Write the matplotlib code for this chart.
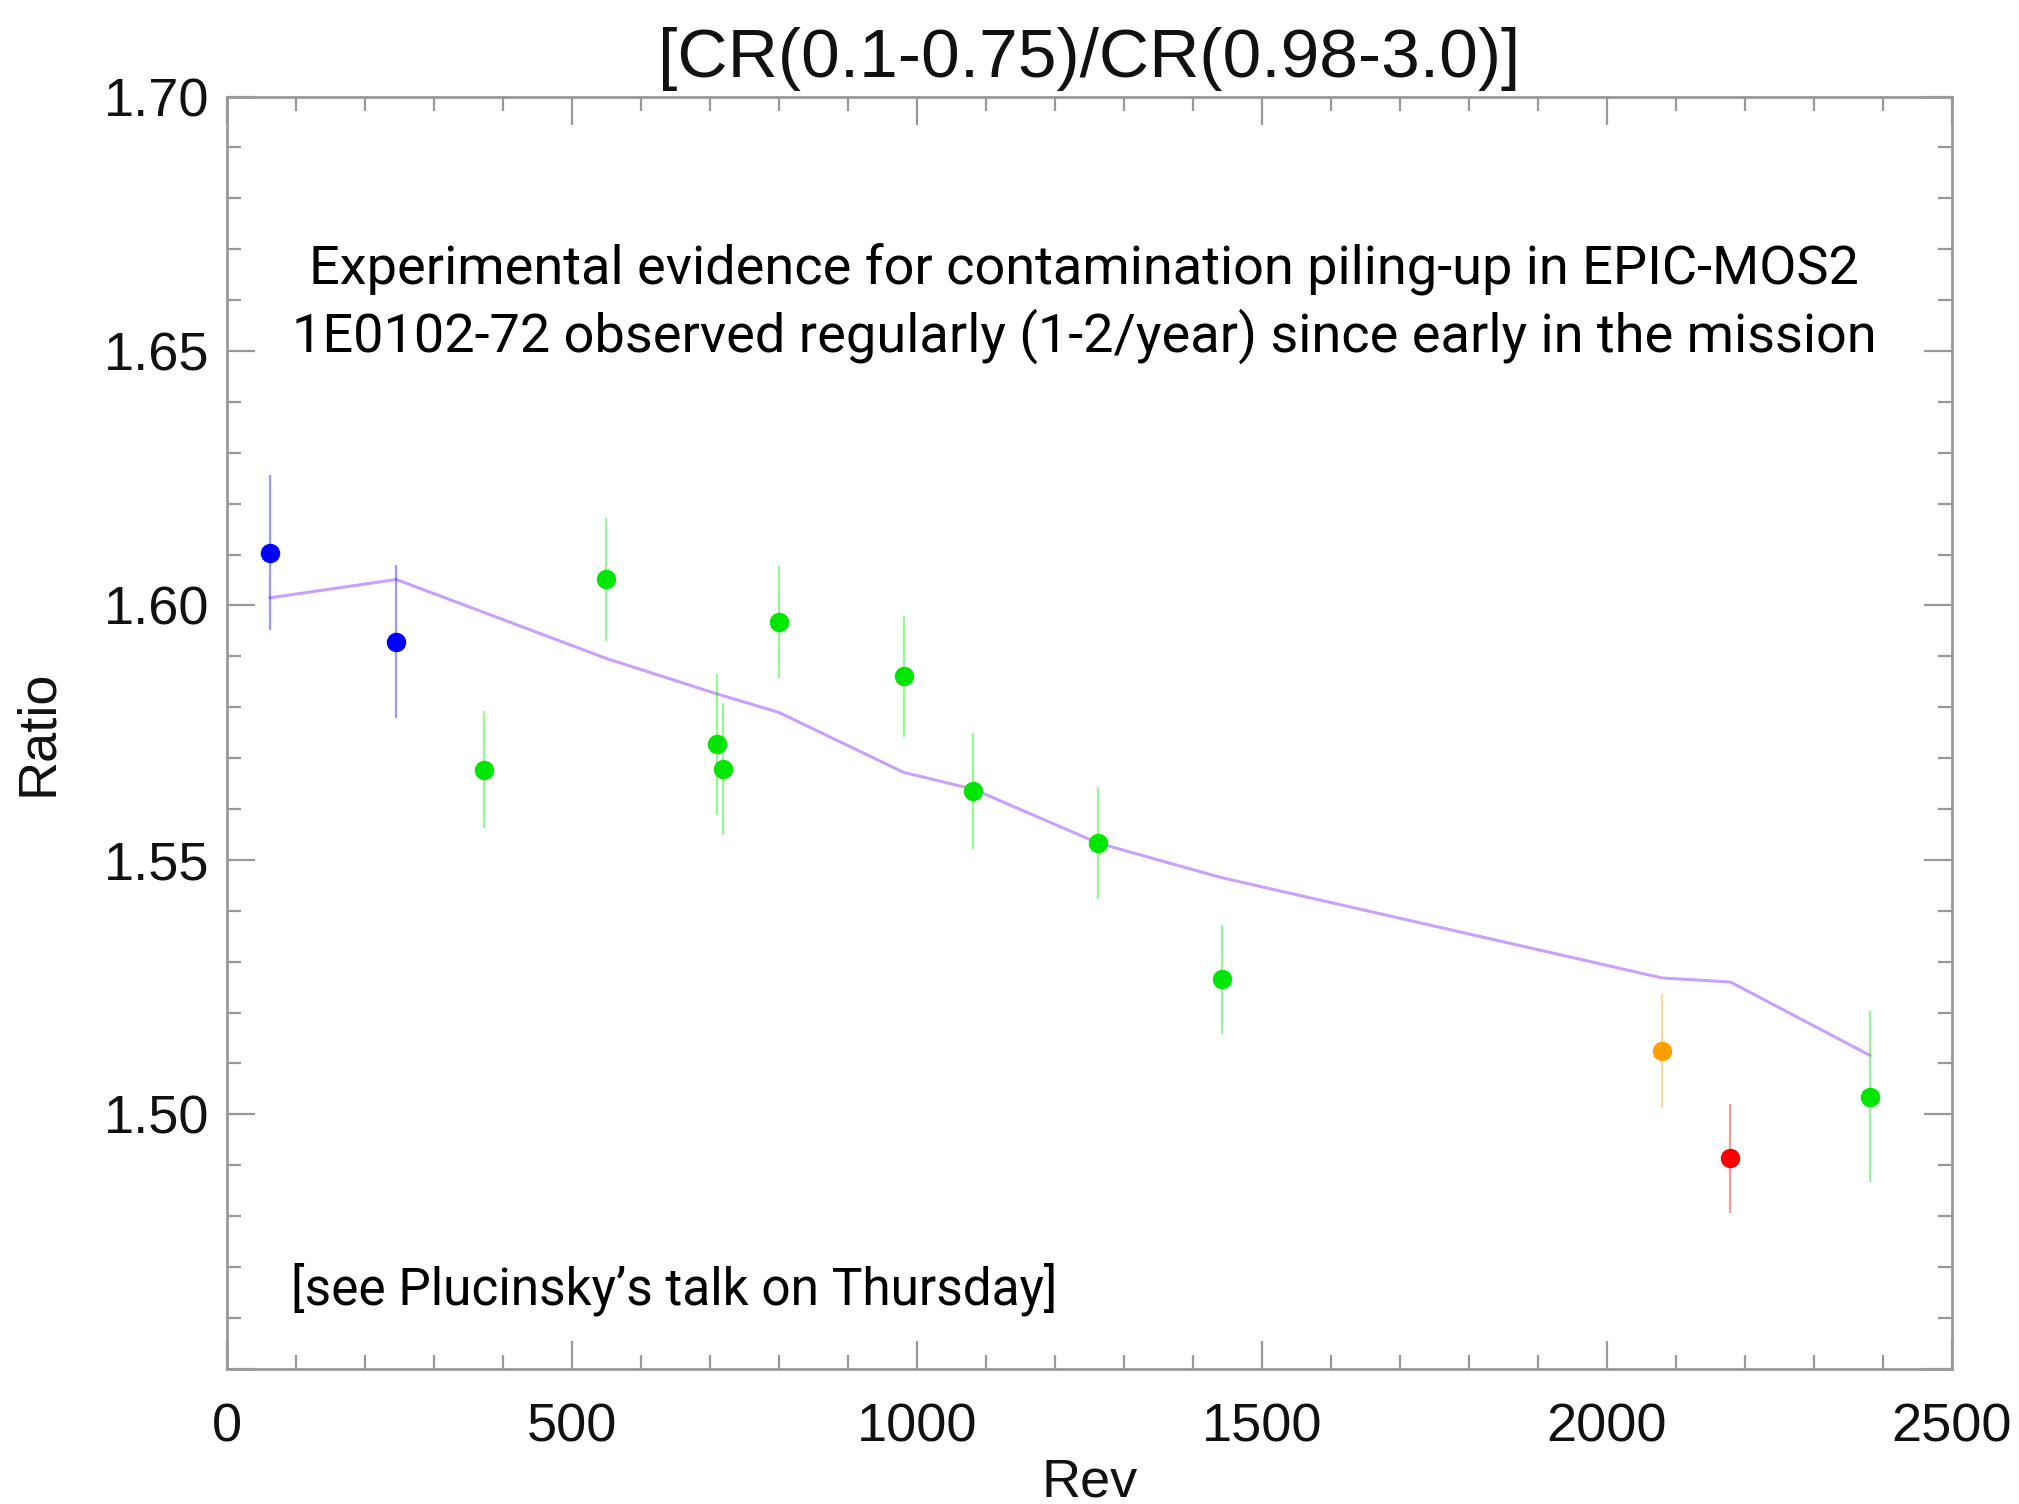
import numpy as np
import matplotlib
matplotlib.use("Agg")
import matplotlib.pyplot as plt
from matplotlib.ticker import MultipleLocator, FuncFormatter

# Data
rev = [63, 246, 373, 550, 711, 720, 800, 981, 1082, 1263, 1442, 2080, 2179, 2381]
ratio = [1.6104, 1.5929, 1.5677, 1.6051, 1.5727, 1.5679, 1.5967, 1.5861,
         1.5636, 1.5533, 1.5265, 1.5124, 1.4914, 1.5035]
err = [0.0152, 0.0150, 0.0115, 0.0120, 0.0139, 0.0130, 0.0110, 0.0119,
       0.0114, 0.0110, 0.0107, 0.0112, 0.0107, 0.0168]
colours = ["#0000ff", "#0000ff", "#00e600", "#00e600", "#00e600", "#00e600", "#00e600",
           "#00e600", "#00e600", "#00e600", "#00e600", "#ffa000", "#ff0000", "#00e600"]

model_rev = [63, 246, 550, 711, 800, 981, 1082, 1263, 1442, 2080, 2179, 2381]
model_ratio = [1.6015, 1.6051, 1.5896, 1.5826, 1.5790, 1.5672, 1.5639,
               1.5533, 1.5465, 1.5268, 1.5260, 1.5116]

plt.rcParams['font.family'] = ['Liberation Sans', 'DejaVu Sans']
note_font = ['Roboto', 'DejaVu Sans']

fig = plt.figure(figsize=(20.19, 15.04), dpi=100)
ax = fig.add_axes([0.1122, 0.0899, 0.8546, 0.8459])

# model curve
ax.plot(model_rev, model_ratio, color="#caa0fc", lw=2.2, zorder=2)

# points with error bars, one colour each
for x, y, e, c in zip(rev, ratio, err, colours):
    ax.errorbar(x, y, yerr=e, fmt='o', color=c, ecolor=c, elinewidth=1.6,
                markersize=13, zorder=3)
for coll in ax.collections:
    coll.set_alpha(0.4)

ax.set_xlim(0, 2500)
ax.set_ylim(1.45, 1.70)
ax.xaxis.set_major_locator(MultipleLocator(500))
ax.xaxis.set_minor_locator(MultipleLocator(100))
ax.yaxis.set_major_locator(MultipleLocator(0.05))
ax.yaxis.set_minor_locator(MultipleLocator(0.01))
# the bottom value 1.45 carries no label in the original
ax.yaxis.set_major_formatter(FuncFormatter(lambda v, p: "" if v < 1.46 else "%.2f" % v))

ax.tick_params(which='both', direction='in', top=True, right=True, color='#999999',
               width=1.6, labelsize=39, labelcolor='#111111')
ax.tick_params(axis='x', which='both', pad=24)
ax.tick_params(axis='y', which='both', pad=12)
ax.tick_params(which='major', length=20)
ax.tick_params(which='minor', length=10)
for s in ax.spines.values():
    s.set_color('#999999')
    s.set_linewidth(2)

ax.set_xlabel("Rev", fontsize=39, labelpad=4, color='#111111')
ax.set_ylabel("Ratio", fontsize=39, labelpad=30, color='#111111')
ax.set_title("[CR(0.1-0.75)/CR(0.98-3.0)]", fontsize=50, pad=14, color='#111111')

ax.text(1243, 1.6662, "Experimental evidence for contamination piling-up in EPIC-MOS2",
        ha='center', va='center', fontsize=39, family=note_font, color='black')
ax.text(1243, 1.6530, "1E0102-72 observed regularly (1-2/year) since early in the mission",
        ha='center', va='center', fontsize=39, family=note_font, color='black')
ax.text(93, 1.4657, "[see Plucinsky\u2019s talk on Thursday]",
        ha='left', va='center', fontsize=37, family=note_font, color='black')

fig.savefig("out.png", dpi=100)
